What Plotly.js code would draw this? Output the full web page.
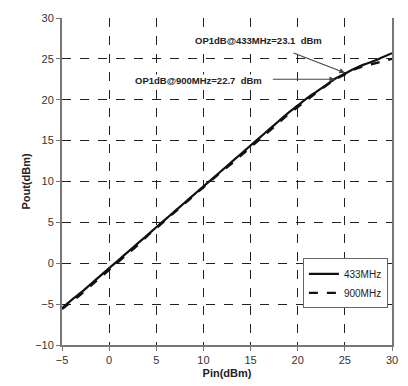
<!DOCTYPE html>
<html><head><meta charset="utf-8">
<script src="https://cdn.plot.ly/plotly-3.0.1.min.js"></script>
<style>html,body{margin:0;padding:0;background:#fff}#plot{width:408px;height:386px}</style>
</head><body><div id="plot"></div>
<script>
const pin = [-5,-4,-3,-2,-1,0,1,2,3,4,5,6,7,8,9,10,11,12,13,14,15,16,17,18,19,20,21,22,23,24,25,26,27,28,29,30];
const pout433 = [-5.5,-4.5,-3.6,-2.6,-1.6,-0.6,0.4,1.4,2.4,3.4,4.4,5.4,6.4,7.4,8.4,9.4,10.4,11.4,12.4,13.4,14.4,15.4,16.4,17.4,18.4,19.3,20.2,21.0,21.8,22.6,23.2,23.8,24.3,24.7,25.2,25.7];
const pout900 = [-5.6,-4.7,-3.8,-2.8,-1.8,-0.8,0.2,1.2,2.2,3.3,4.3,5.3,6.3,7.3,8.3,9.3,10.3,11.3,12.2,13.2,14.2,15.2,16.2,17.2,18.2,19.1,20.0,20.9,21.7,22.5,23.1,23.7,24.1,24.4,24.7,25.0];
const names = ['433MHz','900MHz'];
const ann433 = {text:'OP1dB@433MHz=23.1  dBm', x:25.0, y:23.3, ax:19.4, ay:25.8, tx:15.8, ty:27.3};
const ann900 = {text:'OP1dB@900MHz=22.7  dBm', x:23.95, y:22.5, ax:17.2, ay:22.5, tx:9.5, ty:22.3};

const font = 'Liberation Sans, Arial, sans-serif';
const traces = [
  {x:pin, y:pout433, name:names[0], mode:'lines', line:{color:'#111', width:2.2, shape:'spline'}},
  {x:pin, y:pout900, name:names[1], mode:'lines', line:{color:'#111', width:2.4, dash:'dash', shape:'spline'}}
];
const annotations = [ann433, ann900].flatMap(a => [
  {x:a.x, y:a.y, ax:a.ax, ay:a.ay, axref:'x', ayref:'y', xref:'x', yref:'y', text:'', showarrow:true,
   arrowhead:2, arrowsize:1, arrowwidth:1.1, arrowcolor:'#444'},
  {x:a.tx, y:a.ty, xref:'x', yref:'y', text:'<b>'+a.text+'</b>', showarrow:false, bgcolor:'#fff', borderpad:0,
   font:{family:font, size:9.5, color:'#222'}}
]);
const layout = {
  width:408, height:386,
  margin:{l:62, r:16, t:18, b:41},
  paper_bgcolor:'#fff', plot_bgcolor:'#fff',
  showlegend:true,
  legend:{x:0.73, y:0.265, xanchor:'left', yanchor:'top', bgcolor:'#fff', bordercolor:'#666', borderwidth:1,
    font:{family:font, size:10, color:'#222'}, itemwidth:30, tracegroupgap:0},
  xaxis:{range:[-5,30], dtick:5, tick0:-5, showgrid:true, gridcolor:'#222', griddash:'dash', gridwidth:1,
    zeroline:false, showline:true, linecolor:'#777', linewidth:2, ticks:'outside', ticklen:4, tickcolor:'#777',
    tickfont:{family:font, size:11, color:'#333'},
    title:{text:'<b>Pin(dBm)</b>', font:{family:font, size:11, color:'#222'}, standoff:4}},
  yaxis:{range:[-10,30], dtick:5, tick0:-10, showgrid:true, gridcolor:'#222', griddash:'dash', gridwidth:1,
    zeroline:false, showline:true, mirror:true, linecolor:'#777', linewidth:2, ticks:'outside', ticklen:4, tickcolor:'#777',
    tickfont:{family:font, size:11, color:'#333'},
    title:{text:'<b>Pout(dBm)</b>', font:{family:font, size:11, color:'#222'}, standoff:2}},
  annotations: annotations
};
Plotly.newPlot('plot', traces, layout, {displayModeBar:false, staticPlot:true});
</script></body></html>
